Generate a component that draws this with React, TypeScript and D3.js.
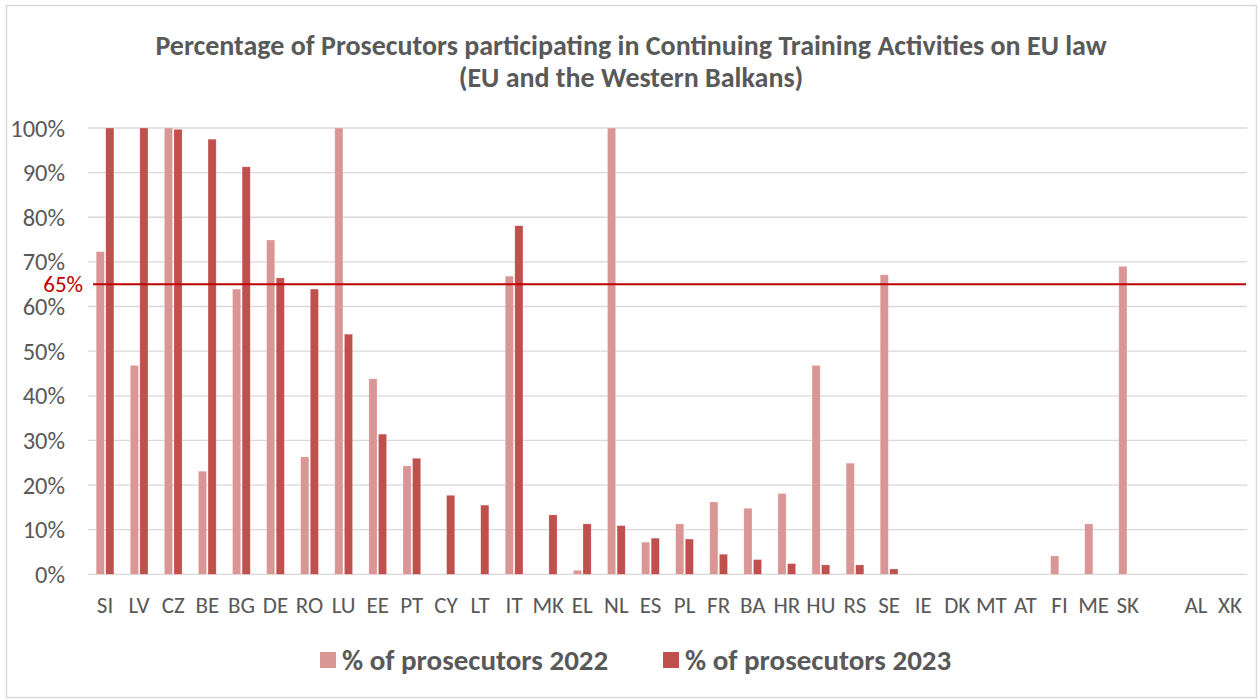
import React from "react";
import * as d3 from "d3";

const categories = ["SI","LV","CZ","BE","BG","DE","RO","LU","EE","PT","CY","LT","IT","MK","EL","NL","ES","PL","FR","BA","HR","HU","RS","SE","IE","DK","MT","AT","FI","ME","SK","","AL","XK"];
const values2022: (number | null)[] = [72.3,46.8,100,23.1,63.9,74.9,26.3,100,43.8,24.3,null,null,66.8,null,0.9,100,7.2,11.3,16.2,14.8,18.1,46.8,24.9,67.1,null,null,null,null,4.1,11.3,69.0,null,null,null];
const values2023: (number | null)[] = [100,100,99.7,97.5,91.3,66.4,63.9,53.8,31.4,26.0,17.7,15.5,78.1,13.3,11.3,10.9,8.1,7.9,4.5,3.3,2.4,2.1,2.1,1.2,null,null,null,null,null,null,null,null,null,null];
const seriesNames = ["% of prosecutors 2022", "% of prosecutors 2023"];
const seriesColors = ["#da9694", "#c0504d"];
const yTicks = [0,10,20,30,40,50,60,70,80,90,100];
const targetValue = 65;
const titleLines = ["Percentage of Prosecutors participating in Continuing Training Activities on EU law", "(EU and the Western Balkans)"];

const W = 1258, H = 699;
const FONT = "Carlito, Lato, 'Open Sans', sans-serif";
const TXT = "#595959";

export default function App() {
  const plotLeft = 88, plotRight = 1247, plotTop = 128, plotBottom = 574.3;
  const x0 = d3.scaleBand<number>().domain(d3.range(categories.length)).range([plotLeft, plotRight]).paddingInner(0.48).paddingOuter(0.24);
  const x1 = d3.scaleBand<number>().domain([0, 1]).range([0, x0.bandwidth()]).paddingInner(0.15);
  const y = d3.scaleLinear().domain([0, 100]).range([plotBottom, plotTop]);
  const series = [values2022, values2023];

  return (
    <svg width={W} height={H} style={{ position: "absolute", left: 0, top: 0, background: "#fff" }} fontFamily={FONT}>
      <rect x={6.5} y={5.5} width={1250} height={692} fill="#fff" stroke="#d9d9d9" strokeWidth={1.5} />
      {titleLines.map((t, i) => (
        <text key={i} x={631} y={45 + i * 32} dy="0.35em" textAnchor="middle" fontSize={28} fontWeight="bold" fill={TXT}>{t}</text>
      ))}
      {yTicks.map((t) => (
        <g key={t}>
          <line x1={plotLeft} x2={plotRight} y1={y(t)} y2={y(t)} stroke="#d9d9d9" strokeWidth={1.3} />
          <text x={65} y={y(t)} dy="0.35em" textAnchor="end" fontSize={24.5} fill={TXT}>{t}%</text>
        </g>
      ))}
      {series.map((vals, s) =>
        vals.map((v, i) =>
          v == null ? null : (
            <rect key={`${s}-${i}`} x={(x0(i) as number) + (x1(s) as number)} y={y(v)} width={x1.bandwidth()} height={y(0) - y(v)} fill={seriesColors[s]} stroke="#fff" strokeOpacity={0.4} strokeWidth={0.6} />
          )
        )
      )}
      <line x1={93} x2={1246} y1={y(targetValue)} y2={y(targetValue)} stroke="#c00000" strokeWidth={2} />
      <text x={83} y={y(targetValue)} dy="0.35em" textAnchor="end" fontSize={23} fill="#c00000">{targetValue}%</text>
      {categories.map((c, i) => (
        <text key={i} x={(x0(i) as number) + x0.bandwidth() / 2} y={613} textAnchor="middle" fontSize={23} fill={TXT}>{c}</text>
      ))}
      {seriesNames.map((n, s) => {
        const lx = [320, 663][s];
        return (
          <g key={n}>
            <rect x={lx} y={652} width={16} height={16} fill={seriesColors[s]} />
            <text x={lx + 22} y={660} dy="0.35em" fontSize={29} fontWeight="bold" fill={TXT}>{n}</text>
          </g>
        );
      })}
    </svg>
  );
}
